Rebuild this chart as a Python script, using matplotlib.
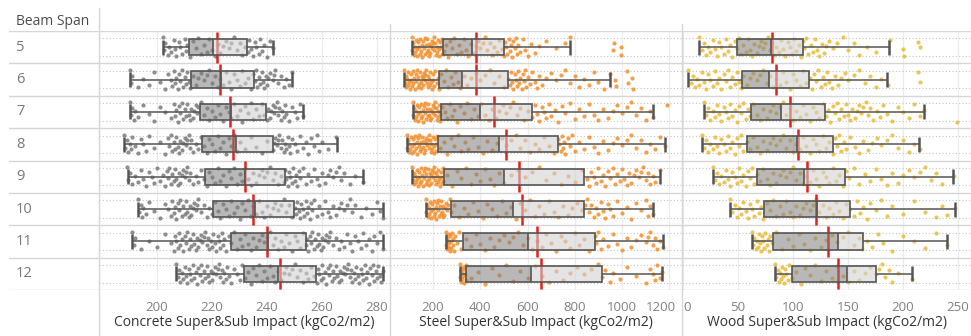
import matplotlib
matplotlib.use("Agg")
import matplotlib.pyplot as plt
from matplotlib.lines import Line2D
from matplotlib.transforms import ScaledTranslation

plt.rcParams['font.family'] = ['Open Sans', 'DejaVu Sans']

spans = ['5', '6', '7', '8', '9', '10', '11', '12']

# ---- concrete ----
c_lo = [202, 190, 190, 188, 189.5, 193, 191, 207]
c_q1 = [211.6, 212.4, 215.6, 216.4, 217.5, 220.4, 226.9, 231.6]
c_med = [220.4, 223.3, 226.9, 228.7, 232, 235.6, 240.4, 244]
c_q3 = [232.7, 235.3, 239.6, 242.2, 246.5, 249.8, 254.2, 257.8]
c_hi = [242, 249, 253, 265.5, 275, 282, 282, 282]
c_mean = [221.8, 222.9, 226.5, 227.6, 231.8, 235, 240, 244.7]
c_pts = [
    [202, 202.5, 203, 204, 204.5, 205, 206, 206.5, 207, 208, 208.5, 209, 210, 210.5, 211, 212, 213, 214, 215, 216,
     217, 218, 219, 220, 221, 222, 223, 224, 225, 226, 227, 228, 229, 230, 231, 232, 233, 233.5, 234, 235, 235.5,
     236, 237, 237.5, 238, 239, 240, 241, 242],
    [190, 190.5, 191, 193, 195, 197, 199, 201, 203, 204, 205, 205.5, 206, 206.5, 207, 207.5, 208, 208.5, 209, 209.5,
     210, 210.5, 211, 211.5, 212, 213, 214, 215, 216, 217, 218, 219, 220, 221, 222, 223, 224, 225, 226, 227, 228,
     229, 230, 231, 232, 233, 234, 235, 235.5, 236, 236.5, 237, 237.5, 238, 238.5, 239, 239.5, 240, 240.5, 241, 242,
     242.5, 243, 244, 245, 246, 247, 248, 249],
    [190, 190.5, 191, 191.5, 192, 193, 195, 197, 199, 201, 203, 205, 206, 206.5, 207, 207.5, 208, 208.5, 209, 209.5,
     210, 210.5, 211, 211.5, 212, 212.5, 213, 213.5, 214, 214.5, 215, 216, 217, 218, 219, 220, 221, 222, 223, 224,
     225, 226, 227, 228, 229, 230, 231, 232, 233, 234, 235, 236, 237, 238, 239, 240, 240.5, 241, 241.5, 242, 242.5,
     243, 243.5, 244, 244.5, 245, 245.5, 246, 246.5, 247, 248, 249, 250, 251, 252, 253],
    [188, 188.5, 189, 189.5, 190, 190.5, 191, 192, 193, 194, 195, 196, 197, 199, 201, 203, 204, 204.5, 205, 205.5,
     206, 206.5, 207, 207.5, 208, 208.5, 209, 209.5, 210, 210.5, 211, 211.5, 212, 212.5, 213, 214, 215, 216, 217,
     218, 219, 220, 221, 222, 223, 224, 225, 226, 227, 228, 229, 230, 232, 234, 236, 238, 240, 242, 242.5, 243,
     243.5, 244, 244.5, 245, 245.5, 246, 246.5, 247, 247.5, 248, 248.5, 249, 250, 251, 252, 253, 254, 255, 256, 257,
     258, 259, 260, 262, 265],
    [189, 189.5, 190, 191, 192, 193, 194, 195, 196, 197, 198, 199, 200, 201, 202, 203, 203.5, 204, 204.5, 205, 205.5,
     206, 206.5, 207, 207.5, 208, 208.5, 209, 209.5, 210, 210.5, 211, 211.5, 212, 213, 214, 215, 216, 217, 218, 219,
     220, 221, 222, 223, 224, 225, 226, 227, 228, 229, 230, 231, 232, 233, 234, 235, 236, 237, 238, 239, 240, 241,
     242, 243, 244, 245, 246, 246.5, 247, 247.5, 248, 248.5, 249, 249.5, 250, 250.5, 251, 251.5, 252, 253, 254, 255,
     256, 257, 258, 259, 260, 261, 262, 263, 264, 265, 266, 267, 268, 270, 272, 275],
    [193, 193.5, 194, 194.5, 195, 196, 197, 199, 201, 203, 204, 205, 205.5, 206, 206.5, 207, 207.5, 208, 208.5, 209,
     209.5, 210, 210.5, 211, 211.5, 212, 212.5, 213, 213.5, 214, 214.5, 215, 216, 217, 218, 219, 220, 221, 222, 223,
     224, 225, 226, 227, 228, 229, 230, 231, 232, 233, 234, 235, 236, 237, 238, 239, 240, 241, 242, 243, 244, 245,
     246, 247, 248, 249, 250, 250.5, 251, 251.5, 252, 252.5, 253, 253.5, 254, 254.5, 255, 255.5, 256, 256.5, 257,
     258, 259, 260, 261, 262, 263, 264, 265, 266, 267, 268, 269, 270, 271, 272, 274, 276, 278, 280, 281, 282],
    [191, 191.5, 192, 194, 197, 200, 203, 205, 206, 206.5, 207, 207.5, 208, 208.5, 209, 209.5, 210, 210.5, 211,
     211.5, 212, 212.5, 213, 213.5, 214, 214.5, 215, 215.5, 216, 216.5, 217, 217.5, 218, 218.5, 219, 219.5, 220,
     220.5, 221, 221.5, 222, 222.5, 223, 223.5, 224, 224.5, 225, 226, 227, 228, 229, 230, 231, 232, 233, 234, 235,
     236, 237, 238, 239, 240, 241, 242, 243, 244, 245, 246, 247, 248, 249, 250, 251, 252, 253, 254, 254.5, 255,
     255.5, 256, 256.5, 257, 257.5, 258, 258.5, 259, 259.5, 260, 260.5, 261, 261.5, 262, 262.5, 263, 264, 265, 266,
     267, 268, 269, 270, 271, 272, 273, 274, 275, 276, 277, 278, 279, 280, 281, 282],
    [207, 207.5, 208, 208.5, 209, 209.5, 210, 210.5, 211, 211.5, 212, 212.5, 213, 213.5, 214, 214.5, 215, 215.5, 216,
     216.5, 217, 217.5, 218, 218.5, 219, 219.5, 220, 220.5, 221, 221.5, 222, 222.5, 223, 223.5, 224, 224.5, 225,
     225.5, 226, 227, 228, 229, 230, 231, 232, 233, 234, 235, 236, 237, 238, 239, 240, 241, 242, 243, 244, 245, 246,
     247, 248, 249, 250, 251, 252, 253, 254, 255, 256, 257, 258, 258.5, 259, 259.5, 260, 260.5, 261, 261.5, 262,
     262.5, 263, 263.5, 264, 264.5, 265, 265.5, 266, 266.5, 267, 267.5, 268, 268.5, 269, 269.5, 270, 270.5, 271,
     271.5, 272, 272.5, 273, 273.5, 274, 274.5, 275, 275.5, 276, 276.5, 277, 277.5, 278, 278.5, 279, 279.5, 280,
     280.5, 281, 281.5, 282],
]

# ---- steel ----
s_lo = [110, 78, 114, 88, 112, 169, 254, 314]
s_q1 = [244, 225, 233, 220, 247, 276, 326, 340]
s_med = [364, 324, 399, 480, 502, 540, 604, 615]
s_q3 = [502, 516, 618, 728, 840, 840, 884, 915]
s_hi = [780, 950, 1131, 1183, 1159, 1131, 1173, 1169]
s_mean = [382, 382, 460, 509, 566, 578, 639, 658]
s_pts = [
    [110, 113, 116, 119, 122, 125, 128, 131, 134, 137, 140, 143, 146, 149, 152, 155, 158, 161, 164, 167, 170, 173,
     176, 179, 182, 185, 188, 191, 194, 197, 200, 203, 206, 209, 212, 215, 218, 221, 224, 227, 230, 233, 236, 240,
     248, 256, 264, 272, 280, 290, 300, 310, 320, 330, 340, 350, 360, 370, 380, 390, 400, 410, 420, 430, 440, 450,
     460, 470, 480, 490, 500, 505, 510, 515, 520, 525, 530, 535, 540, 545, 550, 555, 560, 570, 580, 590, 600, 615,
     630, 650, 680, 720, 760, 780, 963, 965, 995, 997],
    [78, 81, 84, 87, 90, 93, 96, 99, 102, 105, 108, 111, 114, 117, 120, 123, 126, 129, 132, 135, 138, 141, 144, 147,
     150, 153, 156, 159, 162, 165, 168, 171, 174, 177, 180, 183, 186, 189, 192, 195, 198, 201, 205, 210, 215, 220,
     225, 235, 245, 255, 265, 275, 285, 295, 305, 315, 330, 345, 360, 380, 400, 420, 440, 460, 480, 500, 516, 525,
     530, 535, 540, 545, 550, 555, 560, 565, 570, 575, 580, 585, 590, 595, 600, 610, 620, 630, 640, 650, 660, 680,
     700, 720, 740, 760, 780, 800, 820, 840, 860, 880, 900, 925, 950, 971, 975, 1021, 1025, 1042, 1045],
    [114, 117, 120, 123, 126, 129, 132, 135, 138, 141, 144, 147, 150, 153, 156, 159, 162, 165, 168, 171, 174, 177,
     180, 183, 186, 189, 192, 195, 198, 201, 204, 207, 210, 213, 216, 219, 222, 225, 228, 231, 240, 250, 260, 270,
     280, 290, 300, 315, 330, 345, 360, 375, 390, 405, 420, 435, 450, 465, 480, 495, 510, 525, 540, 555, 570, 585,
     600, 618, 630, 640, 650, 660, 670, 680, 690, 700, 715, 730, 745, 760, 780, 800, 820, 840, 860, 880, 900, 920,
     940, 960, 980, 1000, 1020, 1040, 1060, 1080, 1100, 1120, 1131, 1190],
    [88, 91, 94, 97, 100, 103, 106, 109, 112, 115, 118, 121, 124, 127, 130, 133, 136, 139, 142, 145, 148, 151, 154,
     157, 160, 163, 166, 169, 172, 175, 178, 181, 184, 187, 190, 193, 196, 199, 202, 205, 208, 211, 214, 218, 230,
     245, 260, 275, 290, 305, 320, 335, 350, 370, 390, 410, 430, 450, 470, 490, 510, 530, 550, 570, 590, 610, 630,
     650, 670, 690, 710, 728, 735, 740, 745, 750, 755, 760, 770, 780, 790, 800, 820, 840, 860, 880, 900, 920, 940,
     960, 980, 1000, 1020, 1040, 1060, 1080, 1100, 1120, 1140, 1160, 1183],
    [112, 115, 118, 121, 124, 127, 130, 133, 136, 139, 142, 145, 148, 151, 154, 157, 160, 163, 166, 169, 172, 175,
     178, 181, 184, 187, 190, 193, 196, 199, 202, 205, 208, 211, 214, 217, 220, 223, 226, 229, 232, 235, 238, 241,
     244, 260, 280, 300, 320, 340, 360, 380, 400, 420, 440, 460, 480, 500, 530, 560, 590, 620, 650, 680, 710, 740,
     770, 800, 830, 850, 860, 870, 880, 890, 900, 910, 920, 930, 940, 950, 960, 970, 980, 990, 1000, 1010, 1020,
     1030, 1040, 1050, 1060, 1070, 1080, 1090, 1100, 1110, 1120, 1130, 1140, 1159],
    [169, 172, 175, 178, 181, 184, 187, 190, 193, 196, 199, 202, 205, 208, 211, 214, 217, 220, 223, 226, 229, 232,
     235, 238, 241, 244, 247, 250, 255, 260, 265, 270, 276, 290, 310, 330, 350, 370, 390, 410, 430, 450, 470, 490,
     510, 530, 550, 570, 590, 610, 630, 650, 670, 690, 710, 730, 750, 770, 790, 810, 830, 845, 850, 860, 870, 880,
     890, 900, 910, 920, 930, 940, 950, 960, 980, 1000, 1020, 1040, 1060, 1080, 1100, 1110, 1120, 1131],
    [254, 256, 258, 260, 262, 264, 266, 268, 270, 272, 275, 278, 280, 283, 286, 290, 295, 300, 310, 320, 340, 360,
     380, 400, 420, 440, 460, 480, 500, 520, 540, 560, 580, 600, 620, 640, 660, 680, 700, 720, 740, 760, 780, 800,
     820, 840, 860, 884, 890, 900, 910, 920, 940, 960, 980, 1000, 1020, 1040, 1060, 1080, 1100, 1110, 1120, 1130,
     1140, 1150, 1160, 1173],
    [314, 316, 318, 320, 322, 324, 326, 328, 330, 332, 335, 338, 340, 360, 390, 420, 450, 480, 510, 540, 570, 600,
     630, 660, 690, 720, 750, 780, 810, 840, 870, 900, 915, 930, 950, 960, 990, 1020, 1060, 1100, 1120, 1130, 1140,
     1150, 1160, 1169],
]

# ---- wood ----
w_lo = [15, 5, 19, 17, 27, 43, 63, 84]
w_q1 = [49, 54, 61.5, 58.5, 67.6, 73.6, 81.5, 98.8]
w_med = [79.7, 78.2, 88.8, 103.9, 110.3, 122.1, 140.6, 148.8]
w_q3 = [108.8, 114.8, 129, 136, 147.3, 151.8, 163.3, 175.2]
w_hi = [187.6, 185.8, 219.4, 214.8, 245.8, 247.3, 239.7, 208.5]
w_mean = [81.2, 84.2, 97.3, 104.2, 112.4, 120.6, 131.5, 140.6]
w_pts = [
    [15, 17, 19, 21, 23, 25, 27, 29, 31, 33, 35, 37, 39, 41, 43, 45, 47, 49, 51, 53, 55, 57, 59, 61, 63, 65, 67, 69,
     71, 73, 75, 77, 79, 81, 83, 85, 87, 89, 91, 93, 95, 97, 99, 101, 103, 105, 107, 109, 110, 112, 114, 116, 118,
     120, 122, 124, 126, 128, 130, 133, 136, 140, 145, 150, 155, 160, 167, 175, 188, 200, 201, 214, 215],
    [5, 7, 9, 11, 13, 15, 17, 19, 21, 23, 25, 27, 29, 31, 33, 35, 37, 39, 41, 43, 45, 47, 49, 51, 53, 55, 58, 61, 64,
     67, 70, 73, 76, 79, 82, 85, 88, 91, 94, 97, 100, 103, 106, 109, 112, 115, 117, 119, 121, 123, 125, 127, 129,
     131, 133, 135, 138, 141, 144, 147, 150, 155, 160, 165, 170, 175, 180, 186, 214, 215],
    [19, 21, 23, 25, 27, 29, 31, 33, 35, 37, 39, 41, 43, 45, 47, 49, 51, 53, 55, 57, 59, 61, 64, 67, 70, 73, 76, 79,
     82, 85, 88, 91, 94, 97, 100, 103, 106, 109, 112, 115, 118, 121, 124, 127, 130, 132, 134, 136, 138, 140, 142,
     144, 146, 148, 150, 152, 154, 156, 158, 160, 162, 164, 166, 168, 170, 173, 176, 179, 182, 185, 190, 195, 200,
     205, 210, 215, 219, 249],
    [17, 19, 21, 23, 25, 27, 29, 31, 33, 35, 37, 39, 41, 43, 45, 47, 49, 51, 53, 55, 58, 61, 64, 67, 70, 73, 76, 79,
     82, 85, 88, 91, 94, 97, 100, 103, 106, 109, 112, 115, 118, 121, 124, 127, 130, 133, 136, 138, 140, 142, 144,
     146, 148, 152, 156, 160, 164, 168, 172, 176, 180, 185, 190, 195, 200, 205, 210, 215],
    [27, 29, 31, 33, 35, 37, 39, 41, 43, 45, 47, 49, 51, 53, 55, 57, 59, 61, 63, 65, 67, 70, 73, 76, 79, 82, 85, 88,
     91, 94, 97, 100, 103, 106, 109, 112, 115, 118, 121, 124, 127, 130, 133, 136, 139, 142, 145, 148, 151, 155, 160,
     165, 170, 175, 180, 185, 190, 195, 200, 205, 210, 215, 220, 225, 230, 235, 246],
    [43, 45, 47, 49, 51, 53, 55, 57, 59, 61, 63, 65, 67, 69, 71, 73, 76, 79, 82, 85, 88, 91, 94, 97, 100, 103, 106,
     109, 112, 115, 118, 121, 124, 127, 130, 133, 136, 139, 142, 145, 148, 152, 155, 158, 161, 164, 167, 170, 175,
     180, 185, 190, 200, 210, 220, 230, 235, 240, 247],
    [63, 64, 65, 66, 67, 68, 69, 70, 71, 72, 73, 74, 75, 76, 77, 78, 79, 81, 85, 90, 95, 100, 105, 110, 115, 120, 125,
     130, 135, 140, 145, 150, 155, 160, 163, 167, 172, 177, 182, 190, 200, 210, 220, 230, 240],
    [84, 85, 86, 87, 88, 89, 90, 91, 92, 93, 94, 95, 96, 99, 103, 107, 111, 115, 120, 125, 130, 135, 140, 145, 150,
     155, 160, 165, 170, 175, 178, 181, 184, 187, 190, 195, 208],
]

titles = ['Concrete Super&Sub Impact (kgCo2/m2)', 'Steel Super&Sub Impact (kgCo2/m2)',
          'Wood Super&Sub Impact (kgCo2/m2)']
c_ticks = [200, 220, 240, 260, 280]
s_ticks = [200, 400, 600, 800, 1000, 1200]
w_ticks = [0, 50, 100, 150, 200, 250]

# fixed vertical spread pattern for the dots (row units)
jit = [-0.3, 0.1, -0.12, 0.24, -0.02, 0.16, -0.22, 0.06, 0.28, -0.16, 0.0, 0.2, -0.26, 0.12, -0.06, 0.3,
       -0.18, 0.04, -0.28, 0.22, -0.08, 0.14, -0.24, 0.08, 0.26, -0.1, 0.18, -0.04, -0.2, 0.02, -0.14]

W, H = 971, 336
fig = plt.figure(figsize=(W / 100, H / 100), dpi=100)
bot = 1 - 290 / H
hgt = 259 / H

rows = list(range(len(spans)))
bounds = [r - 0.5 for r in rows] + [rows[-1] + 0.5]

# label column
lab = fig.add_axes([9 / W, bot, 90 / W, hgt])
lab.set_xlim(0, 90)
lab.set_ylim(7.5, -0.5)
lab.axis('off')
for b in bounds:
    lab.axhline(b, color='#d6d6d6', lw=1.0)
for r, s in zip(rows, spans):
    lab.text(7, r, s, va='center', ha='left', fontsize=10.5, color='#777777')
lab.text(7, -0.8, 'Beam Span', va='center', ha='left', fontsize=10, color='#4d4d4d', clip_on=False)

panels = [
    (99, 390, (178.9, 284.7), c_ticks, c_lo, c_q1, c_med, c_q3, c_hi, c_mean, c_pts, '#7a7a7a'),
    (390, 682, (17.8, 1254), s_ticks, s_lo, s_q1, s_med, s_q3, s_hi, s_mean, s_pts, '#f28e2b'),
    (682, 971, (-0.9, 261.8), w_ticks, w_lo, w_q1, w_med, w_q3, w_hi, w_mean, w_pts, '#e8bc38'),
]

axes = []
for (x0, x1, xl, ticks, lo, q1, med, q3, hi, mean, pts, col), title in zip(panels, titles):
    ax = fig.add_axes([x0 / W, bot, (x1 - x0) / W, hgt])
    axes.append(ax)
    ax.set_xlim(xl)
    ax.set_ylim(7.5, -0.5)
    for sp in ax.spines.values():
        sp.set_visible(False)
    ax.set_yticks([])
    ax.set_xticks(ticks)
    ax.tick_params(axis='x', length=0, pad=8, labelsize=9.5, labelcolor='#808080')
    for t in ticks:
        ax.axvline(t, color='#ececec', lw=0.9, zorder=0)
    for b in bounds:
        ax.axhline(b, color='#d6d6d6', lw=1.0, zorder=1)
    for r in rows:
        ax.axhline(r - 0.27, color='#c4c4c4', lw=0.8, ls=(0, (1, 2)), zorder=1)
        ax.axhline(r + 0.27, color='#c4c4c4', lw=0.8, ls=(0, (1, 2)), zorder=1)

    for r in rows:
        xs = pts[r]
        ys = [r + jit[k % len(jit)] for k in range(len(xs))]
        ax.scatter(xs, ys, s=9, color=col, alpha=0.85, linewidths=0, zorder=2)

    ax.vlines(mean, [r - 0.48 for r in rows], [r + 0.48 for r in rows], color='#e3201b', lw=1.8, zorder=2.5)
    ax.hlines(rows, lo, q1, color='#555555', lw=1.1, zorder=3)
    ax.hlines(rows, q3, hi, color='#555555', lw=1.1, zorder=3)
    ax.vlines(lo, [r - 0.23 for r in rows], [r + 0.23 for r in rows], color='#555555', lw=1.8, zorder=4)
    ax.vlines(hi, [r - 0.23 for r in rows], [r + 0.23 for r in rows], color='#555555', lw=1.8, zorder=4)
    ax.barh(rows, [m - a for a, m in zip(q1, med)], left=q1, height=0.5,
            color='#7f7f7f', alpha=0.55, zorder=3)
    ax.barh(rows, [b - m for m, b in zip(med, q3)], left=med, height=0.5,
            color='#d2d2d2', alpha=0.6, zorder=3)
    ax.barh(rows, [b - a for a, b in zip(q1, q3)], left=q1, height=0.5,
            fill=False, edgecolor='#555555', lw=1.2, zorder=4)
    ax.vlines(med, [r - 0.25 for r in rows], [r + 0.25 for r in rows], color='#555555', lw=1.2, zorder=4)

    ax.set_xlabel(title, fontsize=10, color='#333333', labelpad=1)

# nudge edge tick labels so they stay inside their panel
fig.canvas.draw()
last = axes[1].get_xticklabels()[-1]
last.set_transform(last.get_transform() + ScaledTranslation(-0.08, 0, fig.dpi_scale_trans))
first = axes[2].get_xticklabels()[0]
first.set_transform(first.get_transform() + ScaledTranslation(0.04, 0, fig.dpi_scale_trans))

# column dividers
fig.add_artist(Line2D([99 / W, 99 / W], [0, 1 - 8 / H], color='#d6d6d6', lw=1.0))
for xd in [390, 682]:
    fig.add_artist(Line2D([xd / W, xd / W], [0, 1 - 24 / H], color='#d6d6d6', lw=1.0))

fig.savefig('out.png', dpi=100)
